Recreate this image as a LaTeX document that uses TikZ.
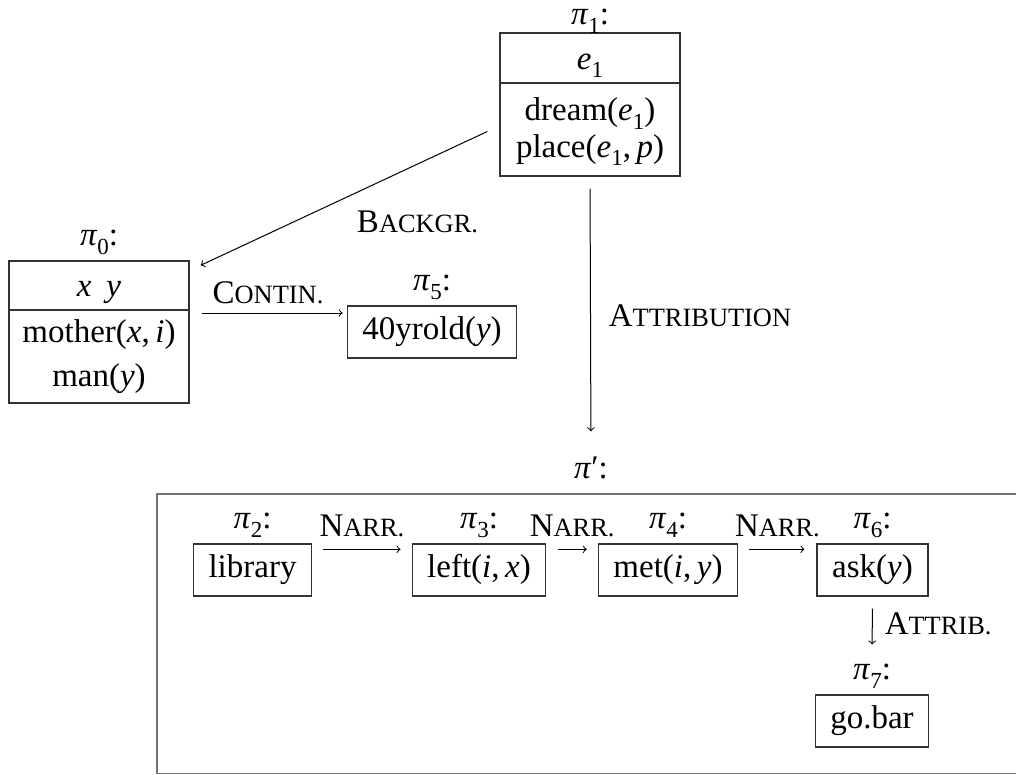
\documentclass[tikz,border=0pt]{standalone}
\usepackage{fontspec}
\setmainfont{Liberation Serif}
\usetikzlibrary{positioning,calc}

% italic variable, lowered index, segment label, small-caps relation name
\newcommand\mvar[1]{\textit{#1}}
\newcommand\idx[1]{\raisebox{-0.25em}{\fontsize{11.5}{12}\selectfont #1}}
\newcommand\seg[1]{\textit{π}\idx{#1}:}
\newcommand\rel[2]{#1{\fontsize{13.2}{15}\selectfont #2}}

\tikzset{
  every node/.style={font=\fontsize{16.5}{19.8}\selectfont, text height=11.5pt, text depth=4pt},
  box/.style={draw=black!80, line width=0.7pt, inner xsep=7.5pt, inner ysep=0pt, minimum height=26pt},
  drs/.style={draw=black!80, line width=0.7pt, inner sep=0pt},
  drsline/.style={draw=black!80, line width=0.7pt},
  outer/.style={draw=black!55, line width=0.9pt, inner sep=0pt},
  lab/.style={inner sep=0pt},
  rlab/.style={inner sep=0pt},
  arr/.style={->, line width=0.5pt},
}

\begin{document}
\begin{tikzpicture}[x=0.5pt, y=-0.5pt]
\useasboundingbox (0,0) rectangle (1016,775);
\clip (0,0) rectangle (1016,775);

% segment pi_1
\node[drs, minimum width=90pt, minimum height=71.5pt] (p1) at (590,104.5) {};
\node[lab, text height=9.5pt, text depth=3.5pt, above=0pt of p1] (p1lab) {\seg{1}};
\coordinate (d1) at (0,83);
\draw[drsline] (p1.west |- d1) -- (p1.east |- d1);
\node[lab] (e1) at (590,62) {\mvar{e}\idx{1}};
\node[lab, text height=10.5pt, text depth=3.5pt] (dream) at (590,114) {dream(\mvar{e}\idx{1})};
\node[lab, text height=10.5pt, text depth=4pt] (place) at (590,151) {place(\mvar{e}\idx{1},\,\mvar{p})};

% segment pi_0
\node[drs, minimum width=90pt, minimum height=71pt] (p0) at (99,332) {};
\node[lab, above=3pt of p0] (p0lab) {\seg{0}};
\coordinate (d0) at (0,310);
\draw[drsline] (p0.west |- d0) -- (p0.east |- d0);
\node[lab] (xy) at (99,289) {\mvar{x}\hspace{0.45em}\mvar{y}};
\node[lab] (mother) at (99,335) {mother(\mvar{x},\,\mvar{i})};
\node[lab] (man) at (99,378.5) {man(\mvar{y})};

% segment pi_5
\node[box] (p5) at (432,332) {40yrold(\mvar{y})};
\node[lab, above=3pt of p5] (p5lab) {\seg{5}};

% relations between the top segments
\draw[arr] ([xshift=-6pt,yshift=-13.5pt]p1.west) -- ([xshift=5.5pt,yshift=-2.5pt]p0.north east);
\node[rlab] (bg) at (417.5,225) {\rel{B}{ACKGR.}};

\coordinate (c0) at (0,313);
\draw[arr, shorten <=6pt, shorten >=2pt] (p0.east |- c0) -- (p5.west |- c0);
\node[rlab] (ct) at (268,296) {\rel{C}{ONTIN.}};

% complex segment pi'
\node[outer, minimum width=434pt, minimum height=139.75pt] (pp) at (591,633.75) {};
\node[lab, above=3pt of pp] (pplab) {\textit{π}′:};

\draw[arr, shorten <=6pt, shorten >=12pt] (p1.south) -- (pplab.north);
\node[rlab] (at) at (700,319) {\rel{A}{TTRIBUTION}};

% inner segments
\node[box] (lib) at (252.5,570) {library};
\node[lab, above=3pt of lib] (p2lab) {\seg{2}};
\node[box] (lft) at (479,570) {left(\mvar{i},\,\mvar{x})};
\node[lab, above=3pt of lft] (p3lab) {\seg{3}};
\node[box] (met) at (668,570) {met(\mvar{i},\,\mvar{y})};
\node[lab, above=3pt of met] (p4lab) {\seg{4}};
\node[box] (ask) at (872.5,570) {ask(\mvar{y})};
\node[lab, above=3pt of ask] (p6lab) {\seg{6}};
\node[box] (bar) at (872,721) {go.bar};
\node[lab, above=3pt of bar] (p7lab) {\seg{7}};

\draw[arr, shorten <=5.5pt, shorten >=5.5pt] ([yshift=-3pt]lib.north east) -- ([yshift=-3pt]lft.north west)
  node[rlab, midway, above=2pt] (n1) {\rel{N}{ARR.}};
\draw[arr, shorten <=6pt, shorten >=5.5pt] ([yshift=-3pt]lft.north east) -- ([yshift=-3pt]met.north west)
  node[rlab, midway, above=2pt] (n2) {\rel{N}{ARR.}};
\draw[arr, shorten <=5.5pt, shorten >=6pt] ([yshift=-3pt]met.north east) -- ([yshift=-3pt]ask.north west)
  node[rlab, midway, above=2pt] (n3) {\rel{N}{ARR.}};
\draw[arr, shorten <=6pt, shorten >=6pt] (ask.south) -- (p7lab.north)
  node[rlab, midway, right=6pt] (ab) {\rel{A}{TTRIB.}};
\end{tikzpicture}
\end{document}
